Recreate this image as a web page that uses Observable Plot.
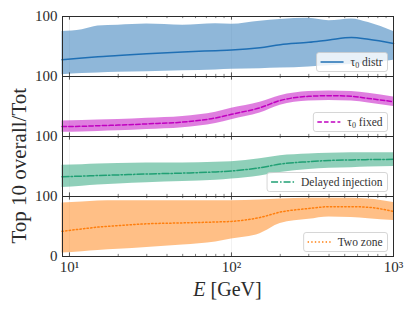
<!DOCTYPE html>
<html><head><meta charset="utf-8">
<script src="https://cdn.jsdelivr.net/npm/d3@7"></script>
<script src="https://cdn.jsdelivr.net/npm/@observablehq/plot@0.6"></script>
<style>body{margin:0;background:#fff}</style>
</head><body><div id="chart"></div>
<script>
// Energies (GeV) at which values were read
const E = [9, 12, 15, 20, 30, 50, 80, 100, 150, 200, 300, 400, 550, 700, 1000];

// Panel 1: tau0 distr
const distrMid = [28, 31, 33, 35, 38, 41, 43, 44, 48, 53, 57, 61, 65, 62, 55];
const distrLo  = [3, 5, 6, 7, 8, 9.5, 11, 12, 13, 14, 16, 18, 20, 22, 27];
const distrHi  = [75, 78, 84, 85.5, 87.5, 85.5, 88, 87, 92, 95, 97, 93, 96, 90, 75];
// Panel 2: tau0 fixed
const fixedMid = [16.5, 17, 18, 19, 21, 24, 31, 37, 48, 60, 67, 68, 67, 63.5, 58];
const fixedLo  = [7, 7.5, 8.5, 9.5, 11.5, 14.5, 21.5, 28, 39, 52, 59, 60, 59, 56, 50];
const fixedHi  = [26, 26.5, 27.5, 28.5, 30.5, 33.5, 40.5, 47, 57, 68, 75, 76, 75, 72, 66];
// Panel 3: delayed injection
const delayMid = [33, 34, 35, 36, 37.5, 39, 41, 42.5, 48, 54, 58, 60, 61, 61.5, 62];
const delayLo  = [15, 17, 19, 21, 23, 25, 27, 29, 34, 40, 45, 47, 48, 49, 50];
const delayHi  = [52, 53, 54, 55, 56, 56, 57, 58, 63, 68, 71, 72, 73, 73, 73];
// Panel 4: two zone
const zoneMid = [42, 46, 49, 51.5, 54.5, 56, 57.5, 58.5, 65, 74, 80, 83, 83, 82, 75];
const zoneLo  = [6, 8, 10, 12, 15, 19, 24, 29, 38, 55, 62, 66, 65, 63, 60];
const zoneHi  = [89, 91, 92.5, 93, 93, 93, 93, 93, 94, 96, 97, 97, 97, 96, 90];

const panelKeys = ["distr", "fixed", "delay", "zone"];
const legendLabels = [["τ", "0", " distr"], ["τ", "0", " fixed"], ["Delayed injection"], ["Two zone"]];
const colors = ["#1f6fb4", "#c000c0", "#20a074", "#ff7f0e"];
const dashes = ["none", "4.5,2.2", "7,2,1.5,2", "1.4,2.2"];

const xMajor = [10, 100, 1000];
const xMinor = [20, 30, 40, 50, 60, 70, 80, 90, 200, 300, 400, 500, 600, 700, 800, 900];
const xTickLabels = ["10¹", "10²", "10³"];
const yTopLabel = 100, yBottomLabel = 0;

const seriesData = [
  [distrMid, distrLo, distrHi],
  [fixedMid, fixedLo, fixedHi],
  [delayMid, delayLo, delayHi],
  [zoneMid, zoneLo, zoneHi]
];

const W = 413, H = 310, mL = 62, mR = 20, mT = 15, mB = 53.5;
const fh = (H - mT - mB) / 4;
const pw = W - mL - mR;
const ink = "#2b2b2b";
const serif = "'Liberation Serif', serif";

const rows = [];
panelKeys.forEach((k, p) => E.forEach((e, i) => rows.push({
  panel: k, E: e, mid: seriesData[p][0][i], lo: seriesData[p][1][i], hi: seriesData[p][2][i]
})));

const marks = [
  Plot.ruleX(xMajor.slice(0, 2), {stroke: "#000", strokeOpacity: 0.07, strokeWidth: 0.8})
];
panelKeys.forEach((k, p) => {
  const d = rows.filter(r => r.panel === k);
  marks.push(Plot.areaY(d, {x: "E", y1: "lo", y2: "hi", fy: "panel", fill: colors[p], fillOpacity: 0.5, curve: "monotone-x"}));
  marks.push(Plot.lineY(d, {x: "E", y: "mid", fy: "panel", stroke: colors[p], strokeWidth: 1.5, strokeDasharray: dashes[p], curve: "monotone-x"}));
});
marks.push(
  Plot.tickX(xMajor, {stroke: ink, strokeWidth: 0.8, insetBottom: fh - 4}),
  Plot.tickX(xMajor, {stroke: ink, strokeWidth: 0.8, insetTop: fh - 4}),
  Plot.tickX(xMinor, {stroke: ink, strokeWidth: 0.6, insetBottom: fh - 2.5}),
  Plot.tickX(xMinor, {stroke: ink, strokeWidth: 0.6, insetTop: fh - 2.5}),
  Plot.tickY([yTopLabel], {stroke: ink, strokeWidth: 0.8, insetRight: pw - 4}),
  Plot.frame({stroke: ink, strokeWidth: 1}),
  Plot.text(panelKeys.map(k => ({panel: k, v: yTopLabel})), {fy: "panel", y: "v", text: d => String(d.v), frameAnchor: "left", dx: -5, textAnchor: "end", fontSize: 15, fill: ink}),
  Plot.text([{panel: panelKeys[3], v: yBottomLabel}], {fy: "panel", y: "v", text: d => String(d.v), frameAnchor: "left", dx: -5, textAnchor: "end", fontSize: 15, fill: ink}),
  Plot.axisX(xMajor, {anchor: "bottom", tickSize: 0, tickPadding: 5, fontSize: 15, fill: ink, tickFormat: d => xTickLabels[xMajor.indexOf(d)], label: null})
);

const plot = Plot.plot({
  width: W, height: H,
  marginLeft: mL, marginRight: mR, marginTop: mT, marginBottom: mB,
  style: {fontFamily: serif, background: "#fff", color: ink},
  x: {type: "log", domain: [9.06, 1000]},
  y: {domain: [0, 100], axis: null},
  fy: {domain: panelKeys, padding: 0, axis: null, label: null},
  marks
});
document.getElementById("chart").appendChild(plot);

const svg = d3.select(plot);
const fy = plot.scale("fy");
const xs = plot.scale("x");
const xRight = xs.apply(1000);
const bw = fy.bandwidth;

// Legends
panelKeys.forEach((k, p) => {
  const top = fy.apply(k);
  const g = svg.append("g");
  const boxH = 19, bottom = top + bw - 4.5, right = xRight - 5.5;
  const rect = g.append("rect").attr("rx", 2.5).attr("ry", 2.5)
    .attr("fill", "#fff").attr("fill-opacity", 0.8).attr("stroke", "#cccccc").attr("stroke-width", 0.8);
  const t = g.append("text").attr("text-anchor", "start").attr("font-family", serif)
    .attr("font-size", 11.5).attr("fill", "#333");
  const lab = legendLabels[p];
  if (lab.length === 3) {
    t.append("tspan").text(lab[0]);
    t.append("tspan").attr("font-size", 8).attr("dy", 2.5).text(lab[1]);
    t.append("tspan").attr("dy", -2.5).text(lab[2]);
  } else {
    t.text(lab[0]);
  }
  const tw = t.node().getComputedTextLength();
  const boxW = 4 + 23 + 7 + tw + 5;
  const left = right - boxW;
  rect.attr("x", left).attr("y", bottom - boxH).attr("width", boxW).attr("height", boxH);
  const cy = bottom - boxH / 2;
  g.append("line").attr("x1", left + 4).attr("x2", left + 27).attr("y1", cy).attr("y2", cy)
    .attr("stroke", colors[p]).attr("stroke-width", 1.5).attr("stroke-dasharray", dashes[p]);
  t.attr("x", left + 34).attr("y", cy + 3.8);
});

// Axis labels
const yMid = (mT + H - mB) / 2 + 30;
svg.append("text").attr("transform", `translate(26,${yMid}) rotate(-90)`)
  .attr("text-anchor", "middle").attr("font-family", serif)
  .attr("font-size", 21).attr("fill", ink).text("Top 10 overall/Tot");
const xl = svg.append("text").attr("x", (mL + xRight) / 2).attr("y", 296)
  .attr("text-anchor", "middle").attr("font-family", serif)
  .attr("font-size", 20).attr("fill", ink);
xl.append("tspan").attr("font-style", "italic").text("E");
xl.append("tspan").text(" [GeV]");
</script>
</body></html>
